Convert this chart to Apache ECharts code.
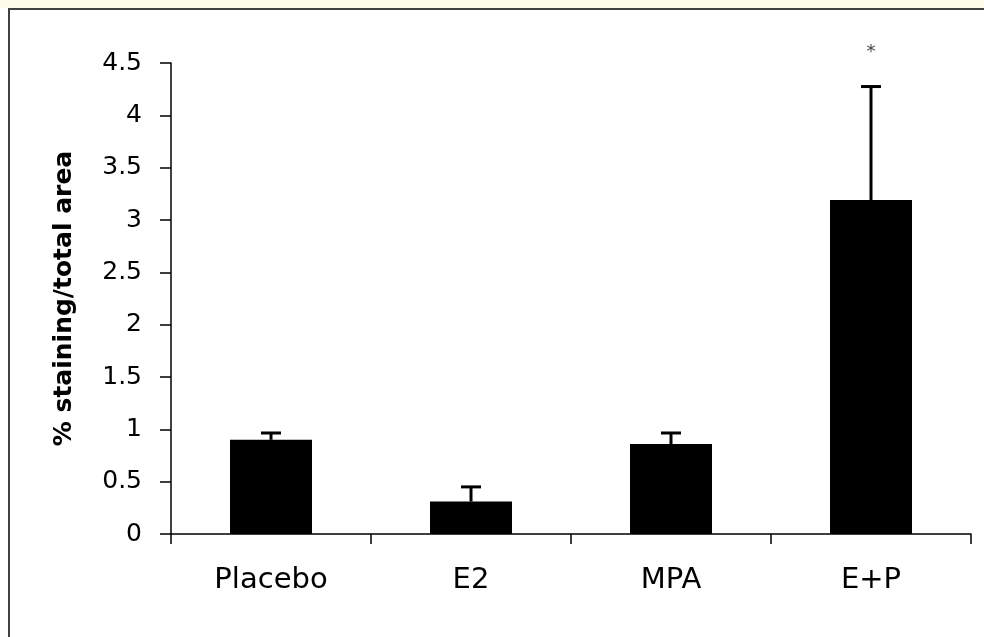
<!DOCTYPE html>
<html>
<head>
<meta charset="utf-8">
<script src="https://cdn.jsdelivr.net/npm/echarts@6/dist/echarts.min.js"></script>
<style>
  html, body { margin: 0; padding: 0; background: #ffffff; }
  #chart { width: 984px; height: 637px; }
</style>
</head>
<body>
<div id="chart"></div>
<script>
// Treatment groups and measured staining (% of total area), mean and SEM
const groups = ['Placebo', 'E2', 'MPA', 'E+P'];
const means = [0.90, 0.31, 0.86, 3.19];
const sems = [0.065, 0.14, 0.105, 1.085];
const marks = ['', '', '', '*'];
const yTicks = [0, 0.5, 1, 1.5, 2, 2.5, 3, 3.5, 4, 4.5];

const FONT = '"DejaVu Sans", Arial, sans-serif';

const chart = echarts.init(document.getElementById('chart'), null, { renderer: 'canvas' });

const errorData = groups.map((g, i) => [i, means[i], means[i] + sems[i], marks[i]]);

chart.setOption({
  backgroundColor: '#ffffff',
  animation: false,
  grid: { left: 171, right: 13, top: 63, bottom: 103 },
  graphic: [
    {
      type: 'rect',
      shape: { x: 0, y: 0, width: 984, height: 8 },
      style: { fill: '#fffbea' },
      silent: true, z: -2
    },
    {
      type: 'rect',
      shape: { x: 9, y: 9, width: 1000, height: 700 },
      style: { fill: 'none', stroke: '#404040', lineWidth: 2 },
      silent: true, z: -1
    }
  ],
  xAxis: {
    type: 'category',
    data: groups,
    boundaryGap: true,
    axisLine: { lineStyle: { color: '#000', width: 1.5 } },
    axisTick: { show: true, length: 10, lineStyle: { color: '#000', width: 1.5 } },
    axisLabel: { color: '#000', fontFamily: FONT, fontSize: 29, margin: 32 }
  },
  yAxis: {
    type: 'value',
    min: yTicks[0],
    max: yTicks[yTicks.length - 1],
    interval: 0.5,
    name: '% staining/total area',
    nameLocation: 'middle',
    nameRotate: 90,
    nameGap: 94,
    nameTextStyle: { color: '#000', fontFamily: FONT, fontSize: 25, fontWeight: 'bold' },
    axisLine: { show: true, lineStyle: { color: '#000', width: 1.5 } },
    axisTick: { show: true, length: 11, lineStyle: { color: '#000', width: 1.5 } },
    splitLine: { show: false },
    axisLabel: { color: '#000', fontFamily: FONT, fontSize: 25, margin: 29 }
  },
  series: [
    {
      type: 'bar',
      data: means,
      barWidth: '41%',
      itemStyle: { color: '#000' },
      z: 2
    },
    {
      type: 'custom',
      data: errorData,
      z: 3,
      renderItem: function (params, api) {
        const x = api.value(0);
        const base = api.coord([x, api.value(1)]);
        const top = api.coord([x, api.value(2)]);
        const capHalf = 10;
        const children = [
          { type: 'line', shape: { x1: base[0], y1: base[1], x2: top[0], y2: top[1] },
            style: { stroke: '#000', lineWidth: 3 } },
          { type: 'line', shape: { x1: top[0] - capHalf, y1: top[1], x2: top[0] + capHalf, y2: top[1] },
            style: { stroke: '#000', lineWidth: 3 } }
        ];
        const mark = errorData[params.dataIndex][3];
        if (mark) {
          children.push({
            type: 'text',
            style: { text: mark, x: top[0], y: top[1] - 34, align: 'center', verticalAlign: 'middle',
                     fill: '#444', fontFamily: FONT, fontSize: 18 }
          });
        }
        return { type: 'group', children: children };
      }
    }
  ]
});
</script>
</body>
</html>
